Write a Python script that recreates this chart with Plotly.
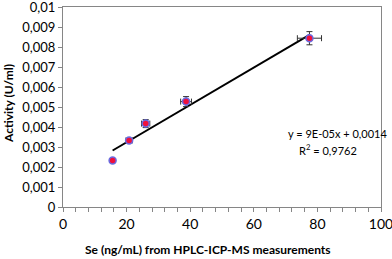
import numpy as np
import plotly.graph_objects as go

# Data
se_ng_ml = [15.6, 20.8, 26.0, 38.7, 77.5]
activity = [0.00232, 0.00333, 0.00417, 0.00527, 0.00844]
se_err = [0.6, 1.0, 1.3, 1.7, 3.8]
activity_err = [0.0001, 0.0001, 0.0002, 0.00025, 0.00033]

y_tick_vals = [0, 0.001, 0.002, 0.003, 0.004, 0.005, 0.006, 0.007, 0.008, 0.009, 0.01]
y_tick_text = ["0", "0,001", "0,002", "0,003", "0,004", "0,005", "0,006", "0,007", "0,008", "0,009", "0,01"]
x_tick_vals = [0, 20, 40, 60, 80, 100]
x_tick_text = ["0", "20", "40", "60", "80", "100"]

x_title = "<b>Se (ng/mL) from HPLC-ICP-MS measurements</b>"
y_title = "<b>Activity (U/ml)</b>"
equation_text = "y = 9E-05x + 0,0014"
r2_text = "R<sup>2</sup> = 0,9762"

slope, intercept = np.polyfit(se_ng_ml, activity, 1)
x_fit = [min(se_ng_ml), max(se_ng_ml)]
y_fit = [slope * v + intercept for v in x_fit]

font_family = "Lato, 'Open Sans', Arial, sans-serif"
axis_grey = "#868686"

fig = go.Figure()
fig.add_trace(go.Scatter(
    x=x_fit, y=y_fit, mode="lines",
    line=dict(color="black", width=2),
    showlegend=False, hoverinfo="skip",
))
fig.add_trace(go.Scatter(
    x=se_ng_ml, y=activity, mode="markers",
    marker=dict(size=7, color="#f0103c", line=dict(color="#6a6ae0", width=1.5)),
    error_x=dict(type="data", array=se_err, color="#333333", thickness=1, width=3),
    error_y=dict(type="data", array=activity_err, color="#333333", thickness=1, width=3),
    showlegend=False,
))

fig.add_annotation(x=0.865, y=0.368, xref="paper", yref="paper", text=equation_text,
                   showarrow=False, xanchor="center", yanchor="middle",
                   font=dict(family=font_family, size=11, color="black"))
fig.add_annotation(x=0.833, y=0.29, xref="paper", yref="paper", text=r2_text,
                   showarrow=False, xanchor="center", yanchor="middle",
                   font=dict(family=font_family, size=11, color="black"))
fig.add_annotation(x=0.456, y=-0.21, xref="paper", yref="paper", text=x_title,
                   showarrow=False, xanchor="center", yanchor="middle",
                   font=dict(family=font_family, size=12, color="black"))
fig.add_annotation(x=-0.173, y=0.52, xref="paper", yref="paper", text=y_title,
                   showarrow=False, xanchor="center", yanchor="middle", textangle=-90,
                   font=dict(family=font_family, size=12, color="black"))

fig.update_layout(
    width=392, height=259,
    margin=dict(l=63, r=11, t=7, b=52, autoexpand=False),
    paper_bgcolor="white", plot_bgcolor="white",
    font=dict(family=font_family, size=12, color="black"),
    showlegend=False,
)
fig.update_xaxes(
    range=[0, 100.001], tickvals=x_tick_vals, ticktext=x_tick_text,
    ticks="outside", ticklen=4, tickcolor=axis_grey, ticklabeloverflow="allow",
    minor=dict(dtick=4, tick0=0, ticks="outside", ticklen=4, tickcolor=axis_grey, showgrid=False),
    showline=True, linecolor=axis_grey, linewidth=1, mirror=True,
    showgrid=False, zeroline=False, automargin=False,
    tickfont=dict(size=14),
)
fig.update_yaxes(
    range=[0, 0.0100001], tickvals=y_tick_vals, ticktext=y_tick_text,
    ticks="outside", ticklen=4, tickcolor=axis_grey, ticklabeloverflow="allow",
    showline=True, linecolor=axis_grey, linewidth=1, mirror=True,
    showgrid=False, zeroline=False, automargin=False,
    tickfont=dict(size=13),
)

fig.write_html("out.html", config={"displayModeBar": False},
               post_script="document.body.style.margin='0';")
